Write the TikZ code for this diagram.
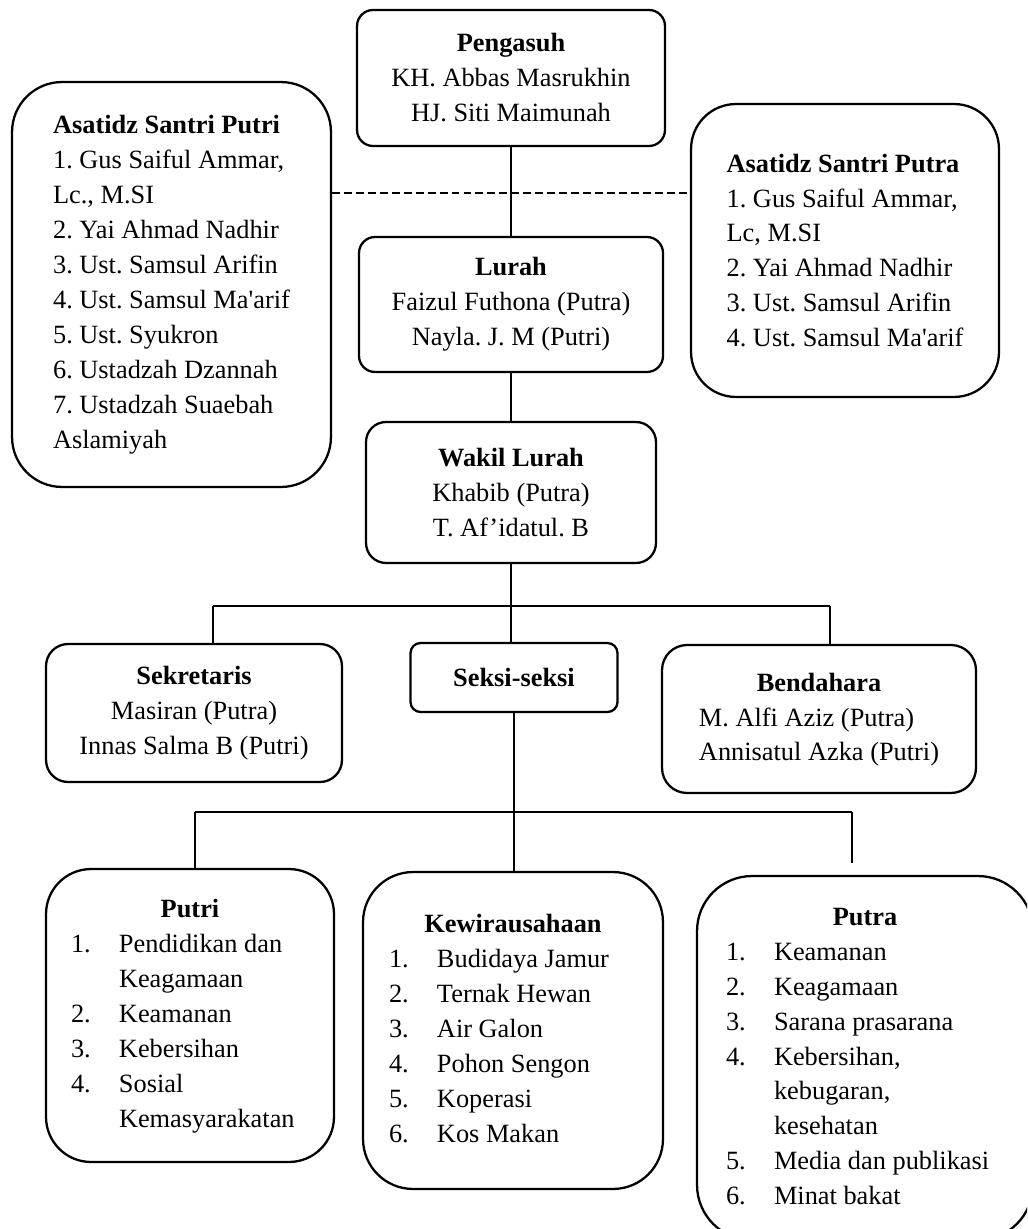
\documentclass[tikz,border=0pt]{standalone}
\usepackage{fontspec}
\setmainfont{Liberation Serif}
\usepackage{array}
\usetikzlibrary{positioning}
\frenchspacing
\tikzstyle{unit} = [rectangle, draw, line width=1.3pt, inner sep=0pt, font=\fontsize{15}{19.9}\selectfont]
\tikzstyle{link} = [draw, line width=1.1pt]
\tikzstyle{bar} = [draw, line width=0.6pt]
\newcommand{\seksilist}[3]{\begin{tabular}{@{}p{0.96cm}@{}p{#2}@{}}\multicolumn{2}{@{}c@{}}{\textbf{#1}}\\ #3\end{tabular}}

\begin{document}
\begin{tikzpicture}[x=0.02cm, y=-0.02cm]
        \useasboundingbox (0,0) rectangle (1027,1229);
        \clip (0,0) rectangle (1027,1229);

        \node[unit, rounded corners=0.32cm, minimum width=6.16cm, minimum height=2.72cm, align=center] (peng) at (511,78) {\textbf{Pengasuh}\\KH. Abbas Masrukhin\\HJ. Siti Maimunah};

        \node[unit, rounded corners=1cm, minimum width=6.38cm, minimum height=8.1cm, align=left] (aputri) at (171.5,284.5) {\textbf{Asatidz Santri Putri}\\1. Gus Saiful Ammar,\\Lc., M.SI\\2. Yai Ahmad Nadhir\\3. Ust. Samsul Arifin\\4. Ust. Samsul Ma\textquotesingle arif\\5. Ust. Syukron\\6. Ustadzah Dzannah\\7. Ustadzah Suaebah\\Aslamiyah};
        \node[unit, rounded corners=0.9cm, minimum width=6.16cm, minimum height=5.86cm, align=left] (aputra) at (845,250.5) {\textbf{Asatidz Santri Putra}\\1. Gus Saiful Ammar,\\Lc, M.SI\\2. Yai Ahmad Nadhir\\3. Ust. Samsul Arifin\\4. Ust. Samsul Ma\textquotesingle arif};

        \node[unit, rounded corners=0.32cm, minimum width=6.08cm, minimum height=2.7cm, align=center] (lurah) at (511,304.5) {\textbf{Lurah}\\Faizul Futhona (Putra)\\Nayla. J. M (Putri)};
        \node[unit, rounded corners=0.4cm, minimum width=5.8cm, minimum height=2.82cm, align=center] (wakil) at (511,492.5) {\textbf{Wakil Lurah}\\Khabib (Putra)\\T. Af'idatul. B};

        \node[unit, rounded corners=0.44cm, minimum width=5.92cm, minimum height=2.76cm, align=center] (sekr) at (194,713) {\textbf{Sekretaris}\\Masiran (Putra)\\Innas Salma B (Putri)};
        \node[unit, rounded corners=0.2cm, minimum width=4.14cm, minimum height=1.38cm] (seksi) at (514,677.5) {\textbf{Seksi-seksi}};
        \node[unit, rounded corners=0.5cm, minimum width=6.28cm, minimum height=2.96cm] (bend) at (819,719) {\begin{tabular}{@{}l@{}}\multicolumn{1}{@{}c@{}}{\textbf{Bendahara}}\\M. Alfi Aziz (Putra)\\Annisatul Azka (Putri)\end{tabular}};

        \node[unit, rounded corners=0.9cm, minimum width=5.76cm, minimum height=5.86cm] (putri) at (190,1015.5) {\seksilist{Putri}{3.8cm}{1. & Pendidikan dan\\ & Keagamaan\\2. & Keamanan\\3. & Kebersihan\\4. & Sosial\\ & Kemasyarakatan}};
        \node[unit, rounded corners=1cm, minimum width=6cm, minimum height=6.34cm] (kwu) at (513,1030.5) {\seksilist{Kewirausahaan}{4cm}{1. & Budidaya Jamur\\2. & Ternak Hewan\\3. & Air Galon\\4. & Pohon Sengon\\5. & Koperasi\\6. & Kos Makan}};
        \node[unit, rounded corners=1.1cm, minimum width=6.72cm, minimum height=7.28cm] (putra) at (865,1058) {\seksilist{Putra}{4.6cm}{1. & Keamanan\\2. & Keagamaan\\3. & Sarana prasarana\\4. & Kebersihan,\\ & kebugaran,\\ & kesehatan\\5. & Media dan publikasi\\6. & Minat bakat}};

        \coordinate (asatidz) at (0,193);
        \coordinate (bar1L) at (213,606);
        \coordinate (bar1R) at (830,606);
        \coordinate (bar2L) at (195,812);
        \coordinate (bar2R) at (852,812);

        \draw[link] (peng.south) -- (lurah.north);
        \draw[link, dash pattern=on 4.5pt off 2.3pt] (aputri.east |- asatidz) -- (aputra.west |- asatidz);
        \draw[link] (lurah.south) -- (wakil.north);
        \draw[link] (wakil.south) -- (wakil.south |- seksi.north);

        \draw[bar] (bar1L) -- (bar1R);
        \draw[link] (bar1L) -- (bar1L |- sekr.north);
        \draw[link] (bar1R) -- (bar1R |- bend.north);

        \draw[link] (seksi.south) -- (seksi.south |- kwu.north);
        \draw[bar] (bar2L) -- (bar2R);
        \draw[bar] (bar2L) -- (bar2L |- putri.north);
        \draw[link, shorten >=0.24cm] (bar2R) -- (bar2R |- putra.north);

    \end{tikzpicture}
\end{document}
